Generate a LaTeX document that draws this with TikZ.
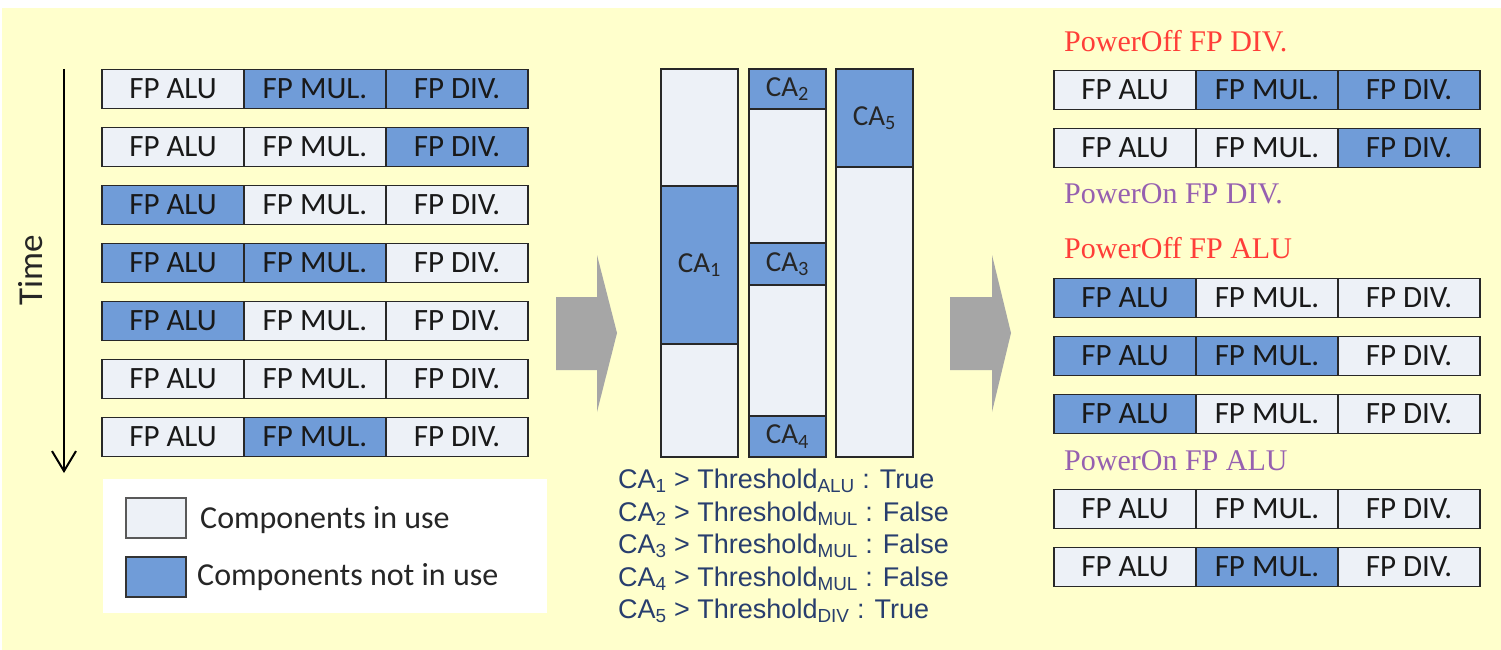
\documentclass[tikz,border=0pt]{standalone}
\usepackage{fontspec}
\setmainfont{Liberation Serif}
\newfontfamily\cellfont{Carlito}
\newfontfamily\notefont{Liberation Sans}
\usetikzlibrary{arrows.meta}

\definecolor{bgyellow}{RGB}{255,255,204}
\definecolor{idleblue}{RGB}{112,156,216}
\definecolor{busygray}{RGB}{237,241,247}
\definecolor{edgegray}{RGB}{40,40,40}
\definecolor{blockgray}{RGB}{166,166,166}
\definecolor{noteblue}{RGB}{40,62,110}
\definecolor{offred}{RGB}{255,62,56}
\definecolor{onpurple}{RGB}{150,96,176}

% one row of three floating-point units: name, left x, centre y, three styles
\newcommand\fprow[6]{%
  \node[#4, anchor=west] (#1a) at (#2,#3) {FP ALU};
  \node[#5, anchor=west] (#1m) at (#1a.east) {FP MUL.};
  \node[#6, anchor=west] (#1d) at (#1m.east) {FP DIV.};
}

\begin{document}
\begin{tikzpicture}[x=1pt,y=-1pt,
  cell/.style={draw=edgegray, line width=1.6pt, minimum width=142pt,
    minimum height=39pt, inner sep=0pt, outer sep=0pt,
    font=\cellfont\fontsize{31}{33}\selectfont, text=black!90},
  busy/.style={cell, fill=busygray},
  idle/.style={cell, fill=idleblue},
  bar/.style={draw=edgegray, line width=1.6pt, inner sep=0pt, outer sep=0pt,
    minimum width=77pt, anchor=north west,
    font=\cellfont\fontsize{29}{31}\selectfont, text=black!85},
  note/.style={anchor=base west, inner sep=0pt, text=noteblue,
    font=\notefont\fontsize{27}{29}\selectfont},
  offnote/.style={anchor=base west, inner sep=0pt, text=offred,
    font=\fontsize{30}{32}\selectfont},
  onnote/.style={anchor=base west, inner sep=0pt, text=onpurple,
    font=\fontsize{30}{32}\selectfont},
  legtext/.style={anchor=base west, inner sep=0pt, text=black!85,
    font=\cellfont\fontsize{32}{34}\selectfont},
  block/.style={fill=blockgray, draw=none}
]
% canvas
\fill[white] (0,0) rectangle (1501,650);
\fill[bgyellow] (2,8) rectangle (1501,650);
\useasboundingbox (0,0) rectangle (1501,650);

% time axis
\coordinate (t0) at (64,69);
\coordinate (t1) at (64,473);
\draw[line width=2pt, -{Straight Barb[length=20pt,width=24pt,line width=2pt]}] (t0) -- (t1);
\node[rotate=90, inner sep=0pt, font=\cellfont\fontsize{35}{37}\selectfont, text=black!85]
  (timelbl) at (31,270) {Time};

% execution trace
\fprow{l1}{102}{89}{busy}{idle}{idle}
\fprow{l2}{102}{147}{busy}{busy}{idle}
\fprow{l3}{102}{205}{idle}{busy}{busy}
\fprow{l4}{102}{263}{idle}{idle}{busy}
\fprow{l5}{102}{321}{idle}{busy}{busy}
\fprow{l6}{102}{379}{busy}{busy}{busy}
\fprow{l7}{102}{437}{busy}{idle}{busy}

% legend
\node[fill=white, inner sep=0pt, minimum width=444pt, minimum height=134pt,
  anchor=north west] (legend) at (103,479) {};
\node[draw=black!65, line width=1.6pt, fill=busygray, minimum width=60pt,
  minimum height=40pt, inner sep=0pt, anchor=north west] (legbusy) at (125,497) {};
\node[draw=black!80, line width=1.6pt, fill=idleblue, minimum width=60pt,
  minimum height=40pt, inner sep=0pt, anchor=north west] (legidle) at (125,556) {};
\node[legtext] (legbusytxt) at (200,528) {Components in use};
\node[legtext] (legidletxt) at (197,585) {Components not in use};

% first block arrow
\fill[block] (556,297) -- (597,297) -- (597,255) -- (617,333) -- (597,412)
  -- (597,370) -- (556,370) -- cycle;

% idle-period bars
\node[bar, fill=busygray, minimum height=388pt] (col1) at (661,69) {};
\node[bar, fill=idleblue, minimum height=158pt] (ca1) at (661,186) {CA\textsubscript{1}};
\node[bar, fill=busygray, minimum height=388pt] (col2) at (749,69) {};
\node[bar, fill=idleblue, minimum height=40pt] (ca2) at (749,69) {CA\textsubscript{2}};
\node[bar, fill=idleblue, minimum height=42pt] (ca3) at (749,243) {CA\textsubscript{3}};
\node[bar, fill=idleblue, minimum height=41pt] (ca4) at (749,416) {CA\textsubscript{4}};
\node[bar, fill=busygray, minimum height=388pt] (col3) at (836,69) {};
\node[bar, fill=idleblue, minimum height=98pt] (ca5) at (836,69) {CA\textsubscript{5}};

% threshold tests
\node[note] (th1) at (618,488) {CA\textsubscript{1} > Threshold\textsubscript{ALU} : True};
\node[note] (th2) at (618,521) {CA\textsubscript{2} > Threshold\textsubscript{MUL} : False};
\node[note] (th3) at (618,553) {CA\textsubscript{3} > Threshold\textsubscript{MUL} : False};
\node[note] (th4) at (618,586) {CA\textsubscript{4} > Threshold\textsubscript{MUL} : False};
\node[note] (th5) at (618,618) {CA\textsubscript{5} > Threshold\textsubscript{DIV} : True};

% second block arrow
\fill[block] (950,297) -- (992,297) -- (992,255) -- (1011,333) -- (992,412)
  -- (992,370) -- (950,370) -- cycle;

% power-gated trace
\node[offnote] (off1) at (1064,52) {PowerOff FP DIV.};
\fprow{r1}{1054}{90}{busy}{idle}{idle}
\fprow{r2}{1054}{148}{busy}{busy}{idle}
\node[onnote] (on1) at (1064,203) {PowerOn FP DIV.};
\node[offnote] (off2) at (1064,258) {PowerOff FP ALU};
\fprow{r3}{1054}{298}{idle}{busy}{busy}
\fprow{r4}{1054}{356}{idle}{idle}{busy}
\fprow{r5}{1054}{414}{idle}{busy}{busy}
\node[onnote] (on2) at (1064,470) {PowerOn FP ALU};
\fprow{r6}{1054}{509}{busy}{busy}{busy}
\fprow{r7}{1054}{567}{busy}{idle}{busy}
\end{tikzpicture}
\end{document}
